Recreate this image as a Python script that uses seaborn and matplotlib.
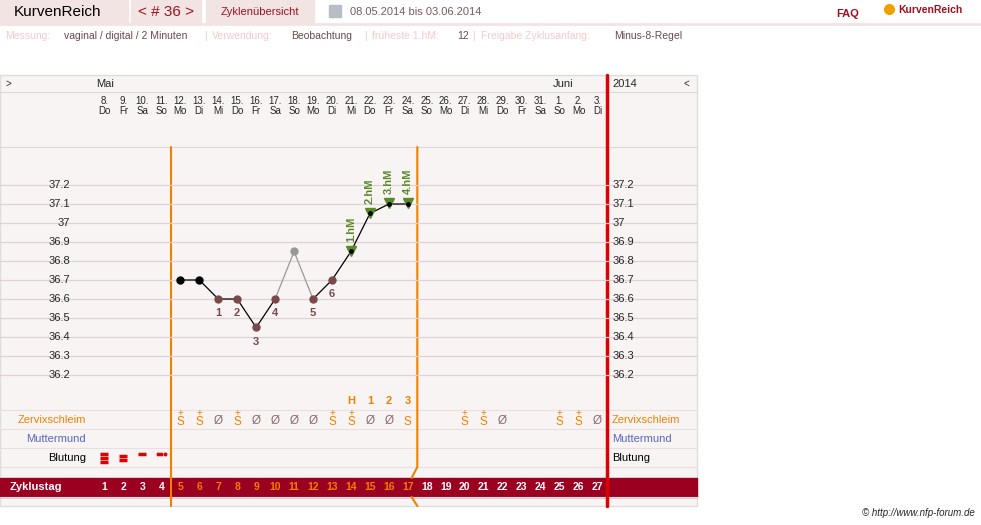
import matplotlib
matplotlib.use("Agg")
import numpy as np
import seaborn as sns
import matplotlib.pyplot as plt
import matplotlib.transforms as mtransforms
from matplotlib.patches import Rectangle

sns.set_theme(style="white")
plt.rcParams["font.family"] = ["Liberation Sans", "DejaVu Sans"]

# data
dates = ["8.", "9.", "10.", "11.", "12.", "13.", "14.", "15.", "16.", "17.", "18.", "19.", "20.", "21.",
         "22.", "23.", "24.", "25.", "26.", "27.", "28.", "29.", "30.", "31.", "1.", "2.", "3."]
weekdays = ["Do", "Fr", "Sa", "So", "Mo", "Di", "Mi", "Do", "Fr", "Sa", "So", "Mo", "Di", "Mi",
            "Do", "Fr", "Sa", "So", "Mo", "Di", "Mi", "Do", "Fr", "Sa", "So", "Mo", "Di"]
cycle_days = list(range(1, 28))
temp_days = [5, 6, 7, 8, 9, 10, 11, 12, 13, 14, 15, 16, 17]
temps = [36.7, 36.7, 36.6, 36.6, 36.45, 36.6, 36.85, 36.6, 36.7, 36.85, 37.05, 37.1, 37.1]
low_days = [7, 8, 9, 10, 12, 13]
low_labels = ["1", "2", "3", "4", "5", "6"]
high_days = [14, 15, 16, 17]
high_labels = ["1.hM", "2.hM", "3.hM", "4.hM"]
excluded_day = 11
peak_days = [14, 15, 16, 17]
peak_labels = ["H", "1", "2", "3"]
mucus_days = [5, 6, 7, 8, 9, 10, 11, 12, 13, 14, 15, 16, 17, 20, 21, 22, 25, 26, 27]
mucus_vals = ["S+", "S+", "Ø", "S+", "Ø", "Ø", "Ø", "Ø", "S+", "S+", "Ø", "Ø", "S",
              "S+", "S+", "Ø", "S+", "S+", "Ø"]
temp_ticks = [36.2, 36.3, 36.4, 36.5, 36.6, 36.7, 36.8, 36.9, 37.0, 37.1, 37.2]

W, H = 981, 525
fig = plt.figure(figsize=(W / 100, H / 100), dpi=100)
bg = fig.add_axes([0, 0, 1, 1])
bg.set_xlim(0, W)
bg.set_ylim(H, 0)
bg.axis("off")

DARK = "#9b0020"
PINK = "#f3e4e4"
ORANGE = "#f08000"

# header
bg.add_patch(Rectangle((0, 0), 128, 23, color=PINK))
bg.add_patch(Rectangle((131, 0), 70, 23, color=PINK))
bg.add_patch(Rectangle((206, 0), 108, 23, color=PINK))
bg.plot([0, 981], [23.5, 23.5], color=PINK, lw=2)
bg.text(14, 12, "KurvenReich", fontsize=11, va="center", color="black")
bg.text(166, 12, "< # 36 >", fontsize=11, va="center", ha="center", color="#a01020")
bg.text(260, 12, "Zyklenübersicht", fontsize=8, va="center", ha="center", color="#a01020")
bg.add_patch(Rectangle((329, 5), 12, 12, color="#b8bcc4"))
bg.text(350, 12, "08.05.2014 bis 03.06.2014", fontsize=8, va="center", color="#7a5a5a")
bg.text(836, 14, "FAQ", fontsize=8, va="center", color="#a01020", fontweight="bold")
bg.text(898, 10, "KurvenReich", fontsize=7.5, va="center", color="#a01020", fontweight="bold")
bg.plot([889], [9], marker="o", color="#f0a000", ms=7)
info = [(5, "Messung:", "#f4caca"), (64, "vaginal / digital / 2 Minuten", "#6a4a4a"),
        (204, "|", "#f4caca"), (212, "Verwendung:", "#f4caca"), (291, "Beobachtung", "#6a4a4a"),
        (364, "|", "#f4caca"), (372, "früheste 1.hM:", "#f4caca"), (457, "12", "#6a4a4a"),
        (472, "|", "#f4caca"), (481, "Freigabe Zyklusanfang:", "#f4caca"), (614, "Minus-8-Regel", "#6a4a4a")]
for x, t, c in info:
    bg.text(x, 36, t, fontsize=7.5, va="center", color=c)

# chart frame
bg.add_patch(Rectangle((0, 75), 697, 431, facecolor="#f9f4f4", edgecolor="#dddddd", lw=1))
bg.plot([0, 697], [92, 92], color="#e0d8d8", lw=0.8)
bg.plot([0, 697], [147, 147], color="#e0d8d8", lw=0.8)
for yy in [410, 429, 448, 467, 497]:
    bg.plot([0, 697], [yy, yy], color="#e8e0e0", lw=0.8)
bg.text(5, 84, ">", fontsize=7, va="center")
bg.text(689, 84, "<", fontsize=7, va="center", ha="right")
bg.text(96, 84, "Mai", fontsize=8, va="center")
bg.text(553, 84, "Juni", fontsize=8, va="center")
bg.text(612, 84, "2014", fontsize=8, va="center")
bg.text(612, 420, "Zervixschleim", fontsize=8, va="center", color=ORANGE)
bg.text(612, 439, "Muttermund", fontsize=8, va="center", color="#5566c0")
bg.text(612, 458, "Blutung", fontsize=8, va="center", color="black")
bg.text(86, 420, "Zervixschleim", fontsize=8, va="center", ha="right", color=ORANGE)
bg.text(86, 439, "Muttermund", fontsize=8, va="center", ha="right", color="#5566c0")
bg.text(86, 458, "Blutung", fontsize=8, va="center", ha="right", color="black")
bg.add_patch(Rectangle((0, 478), 697, 19, color=DARK))
bg.text(10, 487.5, "Zyklustag", fontsize=8, va="center", color="white", fontweight="bold")
bg.text(975, 513, "© http://www.nfp-forum.de", fontsize=7, va="center", ha="right", style="italic")

# data axes: temperature rows, x in cycle days
ax = fig.add_axes([0, (H - 408) / H, 697 / W, (408 - 147) / H])
ax.set_facecolor("none")
ax.set_xlim(0.5 - 95 / 18.96, 0.5 + 602 / 18.96)
ax.set_ylim(36.0263, 37.4)
ax.axis("off")
tb = mtransforms.blended_transform_factory(ax.transData, bg.transData)

for t in temp_ticks:
    ax.axhline(t, color="#dcd4d4", lw=0.9, zorder=0)
    ax.text(-0.8, t, f"{t:g}", fontsize=8, ha="right", va="center")
    ax.text(27.8, t, f"{t:g}", fontsize=8, ha="left", va="center")

# weekend shading + header labels
for d, wd in zip(cycle_days, weekdays):
    if wd in ("Sa", "So"):
        bg.add_patch(Rectangle((d - 0.5, 92), 1, 55, color="#f1e1e1", transform=tb, zorder=0.5))
for d, dt, wd in zip(cycle_days, dates, weekdays):
    bg.text(d, 101, dt, fontsize=7, ha="center", va="center", transform=tb)
    bg.text(d, 111, wd, fontsize=7, ha="center", va="center", transform=tb)
for d in np.arange(0.5, 28, 1):
    bg.plot([d, d], [92, 506], transform=tb, color="#d8d0d0", lw=0.7, ls=(0, (4, 4)), zorder=0.6)

# cycle day bar
for d in cycle_days:
    col = ORANGE if 5 <= d <= 17 else "white"
    bg.text(d, 487.5, str(d), fontsize=7.5, ha="center", va="center", color=col,
            fontweight="bold", transform=tb)

# bleeding
bl = dict(ls="none", marker="_", ms=6, mew=2.5, color="#e00000", transform=tb)
bg.plot([1, 1, 1], [454, 458, 462], **bl)
bg.plot([2, 2], [455.5, 459.5], **bl)
bg.plot([3], [454], **bl)
bg.plot([3.8, 4, 4.2], [454, 454, 454], transform=tb, ls="none", marker="o", ms=1.8, color="#e00000")

# mucus row
for d, v in zip(mucus_days, mucus_vals):
    if v.startswith("S"):
        bg.text(d, 422, "S", fontsize=8.5, ha="center", va="center", color=ORANGE, transform=tb)
        if v == "S+":
            bg.text(d, 413, "+", fontsize=7, ha="center", va="center", color=ORANGE, transform=tb)
    else:
        bg.text(d, 421, "Ø", fontsize=8.5, ha="center", va="center", color="#8a6a6a", transform=tb)
for d, t in zip(peak_days, peak_labels):
    bg.text(d, 401, t, fontsize=8, ha="center", va="center", color=ORANGE, fontweight="bold", transform=tb)

# vertical lines
bg.plot([4.5, 4.5], [147, 506], transform=tb, color=ORANGE, lw=1.5, zorder=3)
bg.plot([17.5, 17.5, 17.2], [147, 467, 478], transform=tb, color=ORANGE, lw=1.5, zorder=3)
bg.plot([17.2, 17.5], [497, 506], transform=tb, color=ORANGE, lw=1.5, zorder=3)
bg.plot([27.5, 27.5], [75, 506], transform=tb, color="#e00000", lw=2.5, zorder=3)

# temperature curve
td = dict(zip(temp_days, temps))
seg1 = [d for d in temp_days if d <= 10]
seg2 = [d for d in temp_days if d >= 12]
sns.lineplot(x=seg1, y=[td[d] for d in seg1], ax=ax, color="black", lw=0.9, zorder=4)
sns.lineplot(x=seg2, y=[td[d] for d in seg2], ax=ax, color="black", lw=0.9, zorder=4)
sns.lineplot(x=[10, 11, 12], y=[td[10], td[11], td[12]], ax=ax, color="#999999", lw=0.9, zorder=4)
ax.plot([5, 6], [td[5], td[6]], "o", color="black", ms=5, zorder=5)
ax.plot(low_days, [td[d] for d in low_days], "o", color="#7a4a4a", ms=5, zorder=5)
ax.plot([excluded_day], [td[excluded_day]], "o", color="#999999", ms=5, zorder=5)
ax.plot(high_days, [td[d] + 0.005 for d in high_days], "v", color="#5a8a2a", ms=7, zorder=5)
ax.plot(high_days, [td[d] for d in high_days], "o", color="black", ms=2.5, zorder=6)
for d, l in zip(low_days, low_labels):
    ax.text(d, td[d] - 0.075, l, fontsize=8, ha="center", va="center", color="#7a4a4a", fontweight="bold")
for d, l in zip(high_days, high_labels):
    ax.text(d, td[d] + 0.05, l, fontsize=8, ha="center", va="bottom", rotation=90,
            color="#5a8a2a", fontweight="bold")

fig.savefig("out.png", dpi=100)
